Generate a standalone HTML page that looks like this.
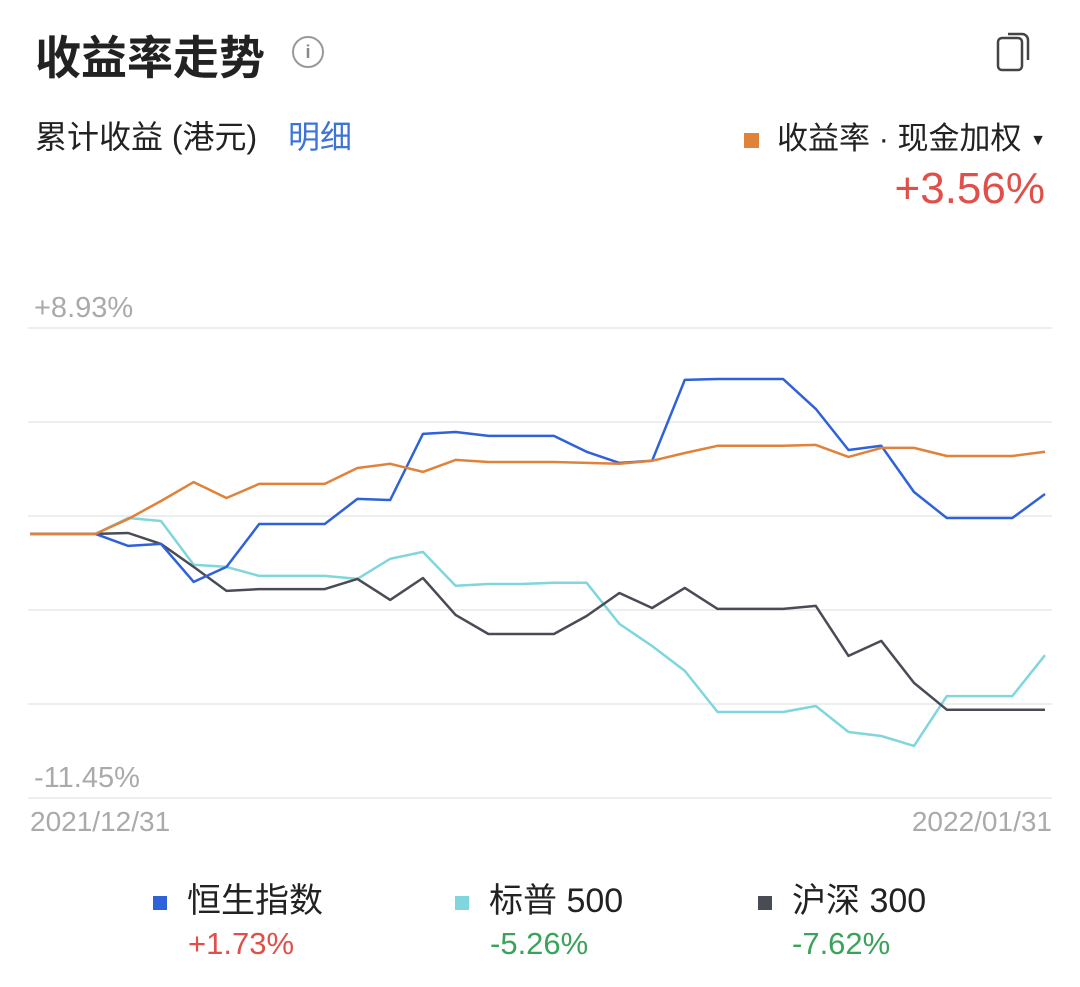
<!DOCTYPE html>
<html><head><meta charset="utf-8">
<style>
html,body{margin:0;padding:0;background:#fff;}
body{width:1080px;height:987px;position:relative;overflow:hidden;font-family:"Liberation Sans","Noto Sans CJK SC",sans-serif;}
.abs{position:absolute;white-space:nowrap;}
</style></head><body>
<div class="abs" style="left:35px;top:22px;font-size:46px;font-weight:bold;color:#222;">收益率走势</div>
<div class="abs" style="left:292px;top:36px;width:28px;height:28px;border:2px solid #999;border-radius:50%;color:#888;font-size:18px;text-align:center;line-height:28px;font-weight:bold;">i</div>
<svg class="abs" style="left:994px;top:30px" width="40" height="44"><rect x="4" y="8" width="24" height="32" rx="4" fill="none" stroke="#444" stroke-width="2.5"/><path d="M14 4 H28 a6 6 0 0 1 6 6 V30" fill="none" stroke="#444" stroke-width="2.5"/></svg>
<div class="abs" style="left:35px;top:112px;font-size:32px;color:#222;">累计收益 (港元)</div>
<div class="abs" style="left:288px;top:112px;font-size:32px;color:#3d74d6;">明细</div>
<div class="abs" style="right:34px;top:113px;font-size:31px;color:#222;"><span style="display:inline-block;width:15px;height:15px;background:#e0823a;margin-right:18px;vertical-align:middle;"></span>收益率 · 现金加权 <span style="font-size:16px;vertical-align:middle;">▼</span></div>
<div class="abs" style="right:35px;top:164px;font-size:44px;color:#e0504a;">+3.56%</div>

<svg class="abs" style="left:0;top:0" width="1080" height="987" id="chart"></svg>

<div class="abs" style="left:34px;top:292px;font-size:29px;color:#aaa;">+8.93%</div>
<div class="abs" style="left:34px;top:762px;font-size:29px;color:#aaa;">-11.45%</div>
<div class="abs" style="left:30px;top:806px;font-size:28px;color:#aaa;">2021/12/31</div>
<div class="abs" style="right:28px;top:806px;font-size:28px;color:#aaa;">2022/01/31</div>

<div class="abs" style="left:153px;top:873px;font-size:34px;color:#222;"><span style="display:inline-block;width:14px;height:14px;background:#2f62d8;margin-right:20px;vertical-align:middle;"></span>恒生指数</div>
<div class="abs" style="left:188px;top:926px;font-size:31px;color:#e0504a;">+1.73%</div>
<div class="abs" style="left:455px;top:873px;font-size:34px;color:#222;"><span style="display:inline-block;width:14px;height:14px;background:#7fd6dc;margin-right:20px;vertical-align:middle;"></span>标普 500</div>
<div class="abs" style="left:490px;top:926px;font-size:31px;color:#3aa35a;">-5.26%</div>
<div class="abs" style="left:758px;top:873px;font-size:34px;color:#222;"><span style="display:inline-block;width:14px;height:14px;background:#4a4c55;margin-right:20px;vertical-align:middle;"></span>沪深 300</div>
<div class="abs" style="left:792px;top:926px;font-size:31px;color:#3aa35a;">-7.62%</div>

<script>
const yMax = 8.93, yMin = -11.45;
const gridCount = 5;
const portfolio = [0,0,0,0.65,1.43,2.25,1.56,2.17,2.17,2.17,2.86,3.04,2.69,3.21,3.12,3.12,3.12,3.08,3.04,3.17,3.51,3.82,3.82,3.82,3.86,3.34,3.73,3.73,3.38,3.38,3.38,3.56];
const hsi = [0,0,0,-0.52,-0.43,-2.08,-1.43,0.43,0.43,0.43,1.52,1.47,4.34,4.42,4.25,4.25,4.25,3.56,3.08,3.17,6.68,6.72,6.72,6.72,5.42,3.64,3.82,1.82,0.69,0.69,0.69,1.73];
const sp500 = [0,0,0,0.69,0.56,-1.34,-1.43,-1.82,-1.82,-1.82,-1.95,-1.08,-0.78,-2.25,-2.17,-2.17,-2.12,-2.12,-3.90,-4.86,-5.94,-7.72,-7.72,-7.72,-7.46,-8.59,-8.76,-9.19,-7.03,-7.03,-7.03,-5.26];
const csi300 = [0,0,0,0.04,-0.43,-1.43,-2.47,-2.39,-2.39,-2.39,-1.95,-2.86,-1.91,-3.51,-4.34,-4.34,-4.34,-3.56,-2.56,-3.21,-2.34,-3.25,-3.25,-3.25,-3.12,-5.29,-4.64,-6.46,-7.62,-7.62,-7.62,-7.62];

const svg = document.getElementById('chart');
const NS = 'http://www.w3.org/2000/svg';
const plotL = 30, plotR = 1045, plotT = 328, plotB = 798;
function xScale(i){ return plotL + (plotR - plotL) * i / (portfolio.length - 1); }
function yScale(v){ return plotT + (yMax - v) / (yMax - yMin) * (plotB - plotT); }

for (let g = 0; g <= gridCount; g++) {
  const y = plotT + (plotB - plotT) * g / gridCount;
  const ln = document.createElementNS(NS, 'line');
  ln.setAttribute('x1', 28); ln.setAttribute('x2', 1052);
  ln.setAttribute('y1', y); ln.setAttribute('y2', y);
  ln.setAttribute('stroke', '#e8e8e8'); ln.setAttribute('stroke-width', 1.5);
  
  
  svg.appendChild(ln);
}

function drawSeries(arr, color, name){
  const p = document.createElementNS(NS, 'polyline');
  p.setAttribute('points', arr.map((v, i) => xScale(i).toFixed(1) + ',' + yScale(v).toFixed(1)).join(' '));
  p.setAttribute('fill', 'none');
  p.setAttribute('stroke', color);
  p.setAttribute('stroke-width', 2.5);
  p.setAttribute('stroke-linejoin', 'round');
  
  
  svg.appendChild(p);
}
drawSeries(sp500, '#7fd6dc', 'sp500-line');
drawSeries(csi300, '#4a4c55', 'csi300-line');
drawSeries(hsi, '#2f62d8', 'hsi-line');
drawSeries(portfolio, '#e0823a', 'portfolio-line');
</script>
</body></html>
